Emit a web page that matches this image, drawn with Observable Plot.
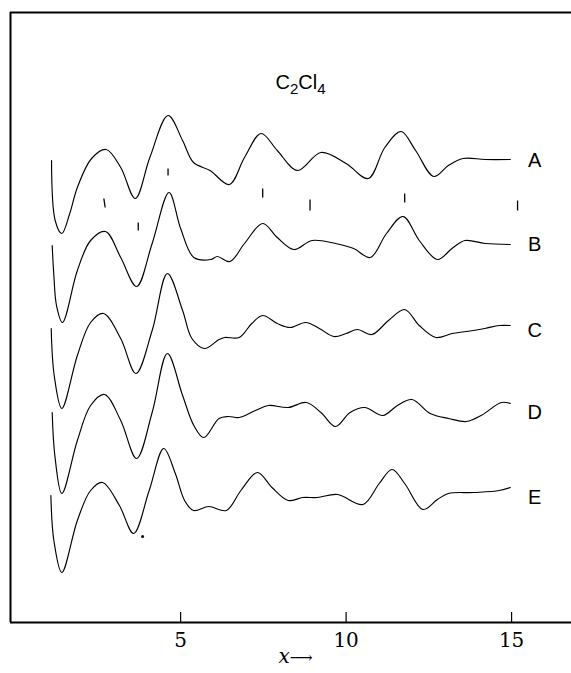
<!DOCTYPE html>
<html><head><meta charset="utf-8">
<script src="https://cdn.jsdelivr.net/npm/d3@7"></script>
<script src="https://cdn.jsdelivr.net/npm/@observablehq/plot@0.6"></script>
<style>body{margin:0;background:#fff}</style>
</head><body><div id="chart"></div>
<script>
// ---- data ----
const curveNames = ["A", "B", "C", "D", "E"];
const xA = [1.10,1.21,1.41,1.65,1.88,2.31,2.75,3.19,3.63,4.07,4.62,5.06,5.39,5.89,6.47,6.93,7.43,7.92,8.53,9.24,10.0,10.67,11.17,11.66,12.1,12.65,13.09,13.53,14.2,14.96];
const yA = [46.2,40.2,38.9,40.9,43.5,46.4,47.3,45.5,42.4,46.5,50.7,48.2,46.0,45.2,43.8,46.5,48.9,47.2,45.2,47.0,45.9,44.4,47.5,49.1,47.2,44.6,45.7,46.4,46.3,46.3];
const xB = [1.12,1.17,1.25,1.43,1.88,2.28,2.73,3.19,3.67,4.14,4.65,5.0,5.40,5.91,6.11,6.49,6.93,7.48,7.92,8.42,8.97,9.68,10.23,10.73,11.22,11.72,12.21,12.76,13.2,13.59,14.2,14.96];
const yB = [37.7,34.7,31.7,30.0,35.2,38.2,39.1,36.5,33.6,37.9,43.0,39.4,36.5,36.3,36.6,36.1,37.9,39.9,38.5,37.3,38.2,37.9,37.4,36.5,38.9,40.6,38.2,36.3,37.4,38.2,37.9,37.8];
const xC = [1.09,1.18,1.41,1.88,2.28,2.67,3.19,3.65,4.14,4.60,5.06,5.34,5.72,6.16,6.33,6.77,7.15,7.48,7.92,8.31,8.78,9.19,9.63,10.0,10.34,10.78,11.28,11.77,12.21,12.71,13.2,13.64,14.19,14.63,14.96];
const yC = [29.4,24.7,21.4,26.7,30.0,30.9,28.4,24.9,29.2,34.9,31.2,28.4,27.4,28.3,28.5,28.5,29.9,30.7,29.9,29.5,30.0,29.4,28.6,28.9,29.3,28.8,30.2,31.3,29.7,28.5,28.9,29.1,29.4,29.7,29.7];
const xD = [1.12,1.20,1.41,1.88,2.28,2.70,3.19,3.67,4.14,4.60,5.06,5.40,5.70,6.16,6.44,6.77,7.26,7.65,8.25,8.80,9.24,9.68,10.12,10.56,11.11,11.55,11.99,12.54,13.1,13.64,14.08,14.69,14.96];
const yD = [21.0,16.7,12.9,18.2,21.7,22.8,20.2,16.4,21.0,26.9,22.7,19.7,18.5,20.4,20.6,20.5,21.2,21.7,21.5,22.0,21.0,19.6,21.0,21.5,20.7,21.7,22.3,20.9,20.4,20.1,20.7,22.0,21.9];
const xE = [1.08,1.17,1.41,1.88,2.28,2.64,3.15,3.58,4.05,4.49,4.84,5.12,5.39,5.85,6.38,6.82,7.32,7.76,8.25,8.69,9.13,9.74,10.51,11.0,11.39,11.77,12.32,12.76,13.09,13.86,14.63,14.96];
const yE = [12.7,8.2,5.0,10.2,13.2,14.0,11.7,8.9,13.2,17.4,14.9,12.2,11.2,11.6,11.2,13.2,15.0,13.5,12.2,12.5,12.5,12.8,11.8,13.9,15.3,13.9,11.3,12.3,12.9,13.0,13.2,13.5];
const labelX = 15.7;
const labelY = [46.2, 37.8, 29.2, 21.0, 12.5];
// short vertical marker strokes
const markX1 = [2.68, 3.72, 4.62, 7.48, 8.91, 11.77, 15.18];
const markX2 = [2.72, 3.72, 4.62, 7.48, 8.91, 11.77, 15.18];
const markTop = [42.4, 40.0, 45.4, 43.4, 42.3, 42.9, 42.2];
const markBottom = [41.5, 39.2, 44.7, 42.5, 41.2, 42.0, 41.2];
const dotX = [3.85];
const dotY = [8.6];
const tickValues = [5, 10, 15];
const xDomain = [-0.14, 16.81];
const yDomain = [0, 61];
const titleText = "C2Cl4";
const xLabelText = "x⟶";

// ---- build tables ----
const xs = [xA, xB, xC, xD, xE], ys = [yA, yB, yC, yD, yE];
const rows = [];
curveNames.forEach((n, i) => xs[i].forEach((x, j) => rows.push({curve: n, x, y: ys[i][j]})));
const marks = markX1.map((x1, i) => ({x1, x2: markX2[i], y1: markTop[i], y2: markBottom[i]}));
const labels = curveNames.map((n, i) => ({n, x: labelX, y: labelY[i]}));
const dots = dotX.map((x, i) => ({x, y: dotY[i]}));

const chart = Plot.plot({
  width: 571, height: 673,
  marginLeft: 10, marginRight: 0, marginTop: 12, marginBottom: 51,
  x: {domain: xDomain},
  y: {domain: yDomain, axis: null},
  style: {fontFamily: "DejaVu Serif", background: "white", color: "black"},
  marks: [
    Plot.ruleY([yDomain[0]], {strokeWidth: 2}),
    Plot.ruleY([yDomain[1]], {strokeWidth: 2}),
    Plot.ruleX([xDomain[0]], {strokeWidth: 2}),
    Plot.ruleX(tickValues, {y1: 0, y2: 1, strokeWidth: 1.2}),
    Plot.axisX(tickValues, {tickSize: 0, tickPadding: 10, fontSize: 20, label: null}),
    Plot.line(rows, {x: "x", y: "y", z: "curve", curve: "catmull-rom", strokeWidth: 1.15, stroke: "black"}),
    Plot.link(marks, {x1: "x1", x2: "x2", y1: "y1", y2: "y2", strokeWidth: 1.3, stroke: "black"}),
    Plot.dot(dots, {x: "x", y: "y", r: 1.5, fill: "black"}),
    Plot.text(labels, {x: "x", y: "y", text: "n", fontFamily: "Liberation Sans", fontSize: 20, textAnchor: "middle"}),
    Plot.text([titleText], {frameAnchor: "top-left", dx: 265, dy: 62, fontFamily: "Liberation Sans", fontSize: 20, textAnchor: "start"}),
    Plot.text([xLabelText], {frameAnchor: "bottom-left", dx: 268, dy: 40, fontFamily: "DejaVu Serif", fontSize: 20, textAnchor: "start"})
  ]
});
document.getElementById("chart").appendChild(chart);

// subscripts in the title, italic x in axis label
const svg = d3.select(chart);
svg.selectAll("text").filter(function(){ return this.textContent === titleText; }).each(function(){
  const t = d3.select(this); t.text("");
  t.append("tspan").text("C");
  t.append("tspan").attr("font-size", 15).attr("dy", 5).text("2");
  t.append("tspan").attr("dy", -5).text("Cl");
  t.append("tspan").attr("font-size", 15).attr("dy", 5).text("4");
});
svg.selectAll("text").filter(function(){ return this.textContent === xLabelText; }).each(function(){
  const t = d3.select(this); t.text("");
  t.append("tspan").attr("font-style", "italic").text("x");
  t.append("tspan").attr("font-size", 16).text("⟶");
});
</script>
</body></html>
